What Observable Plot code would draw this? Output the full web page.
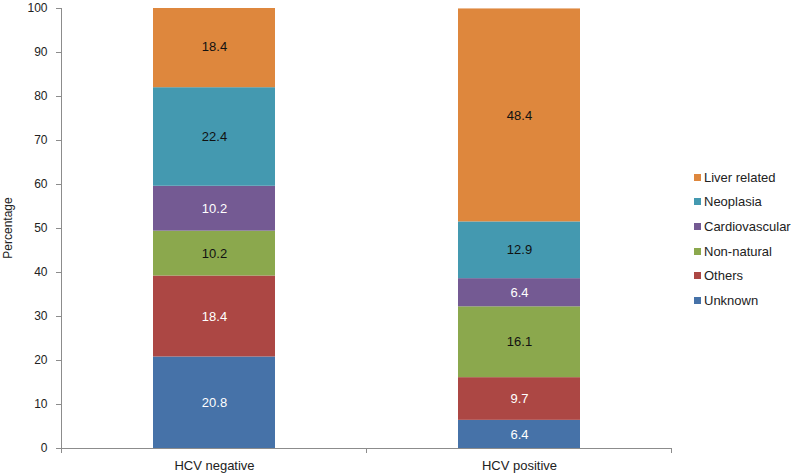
<!DOCTYPE html>
<html>
<head>
<meta charset="utf-8">
<script src="https://cdn.jsdelivr.net/npm/d3@7"></script>
<script src="https://cdn.jsdelivr.net/npm/@observablehq/plot@0.6"></script>
<style>
  html, body { margin: 0; padding: 0; background: #fff; }
  #wrap { position: relative; width: 793px; height: 474px; font-family: "Liberation Sans", Arial, sans-serif; }
  #ylabel { position: absolute; left: 8px; top: 228px; transform: translate(-50%, -50%) rotate(-90deg); font-size: 12px; color: #222; white-space: nowrap; }
  #legend { position: absolute; left: 694px; top: 165px; font-size: 13px; color: #222; }
  #legend .row { height: 24.6px; display: flex; align-items: center; }
  #legend .sw { width: 7px; height: 7px; margin-right: 3px; }
</style>
</head>
<body>
<div id="wrap"><div id="ylabel">Percentage</div><div id="legend"></div></div>
<script>
const groups = ["HCV negative", "HCV positive"];
const causes = ["Unknown", "Others", "Non-natural", "Cardiovascular", "Neoplasia", "Liver related"];
const hcvNegative = [20.8, 18.4, 10.2, 10.2, 22.4, 18.4];
const hcvPositive = [6.4, 9.7, 16.1, 6.4, 12.9, 48.4];
const yTicks = [0, 10, 20, 30, 40, 50, 60, 70, 80, 90, 100];

const causeColors = ["#4672A8", "#AC4744", "#8BA84D", "#745A93", "#4499B0", "#DE873D"];
const labelColors = ["#fff", "#fff", "#111", "#fff", "#111", "#111"];

const seriesByGroup = [hcvNegative, hcvPositive];
const data = [];
groups.forEach((g, gi) => causes.forEach((c, ci) => data.push({group: g, cause: c, value: seriesByGroup[gi][ci]})));

const axisGray = "#8c8c8c";
const font = "Liberation Sans, Arial, sans-serif";

const plot = Plot.plot({
  width: 793,
  height: 474,
  marginLeft: 61,
  marginRight: 121,
  marginTop: 8,
  marginBottom: 26,
  style: {fontFamily: font, fontSize: "12px", background: "transparent"},
  x: {domain: groups, paddingInner: 0.6, paddingOuter: 0.3, axis: null},
  y: {domain: [0, 100], axis: null},
  color: {domain: causes, range: causeColors},
  marks: [
    Plot.barY(data, Plot.stackY({x: "group", y: "value", fill: "cause", order: causes, clip: true})),
    Plot.text(data, Plot.stackY({
      x: "group", y: "value", z: "cause", order: causes,
      text: d => d.value.toFixed(1),
      fill: d => labelColors[causes.indexOf(d.cause)],
      fontSize: 13
    })),
    Plot.ruleY([0], {stroke: axisGray}),
    Plot.axisY({ticks: yTicks, tickSize: 5, tickPadding: 9, stroke: axisGray, fill: "#222", label: null, fontSize: 12}),
    Plot.axisX({tickSize: 0, tickPadding: 12, fill: "#222", label: null, fontSize: 13})
  ]
});

document.getElementById("wrap").prepend(plot);

// axis line and category boundary ticks using the plot's own scales
const xs = plot.scale("x"), ys = plot.scale("y");
const svg = d3.select(plot);
const y0 = ys.apply(0), y100 = ys.apply(100);
const step = xs.step;
const bounds = groups.map(g => xs.apply(g) + xs.bandwidth / 2 - step / 2);
bounds.push(xs.apply(groups[groups.length - 1]) + xs.bandwidth / 2 + step / 2);
svg.append("line").attr("x1", bounds[0]).attr("x2", bounds[0]).attr("y1", y100).attr("y2", y0).attr("stroke", axisGray);
bounds.forEach(b => svg.append("line").attr("x1", b).attr("x2", b).attr("y1", y0).attr("y2", y0 + 5).attr("stroke", axisGray));

// legend (top to bottom: reverse stack order)
const legend = d3.select("#legend");
causes.slice().reverse().forEach(c => {
  const row = legend.append("div").attr("class", "row");
  row.append("div").attr("class", "sw").style("background", causeColors[causes.indexOf(c)]);
  row.append("span").text(c);
});
</script>
</body>
</html>
